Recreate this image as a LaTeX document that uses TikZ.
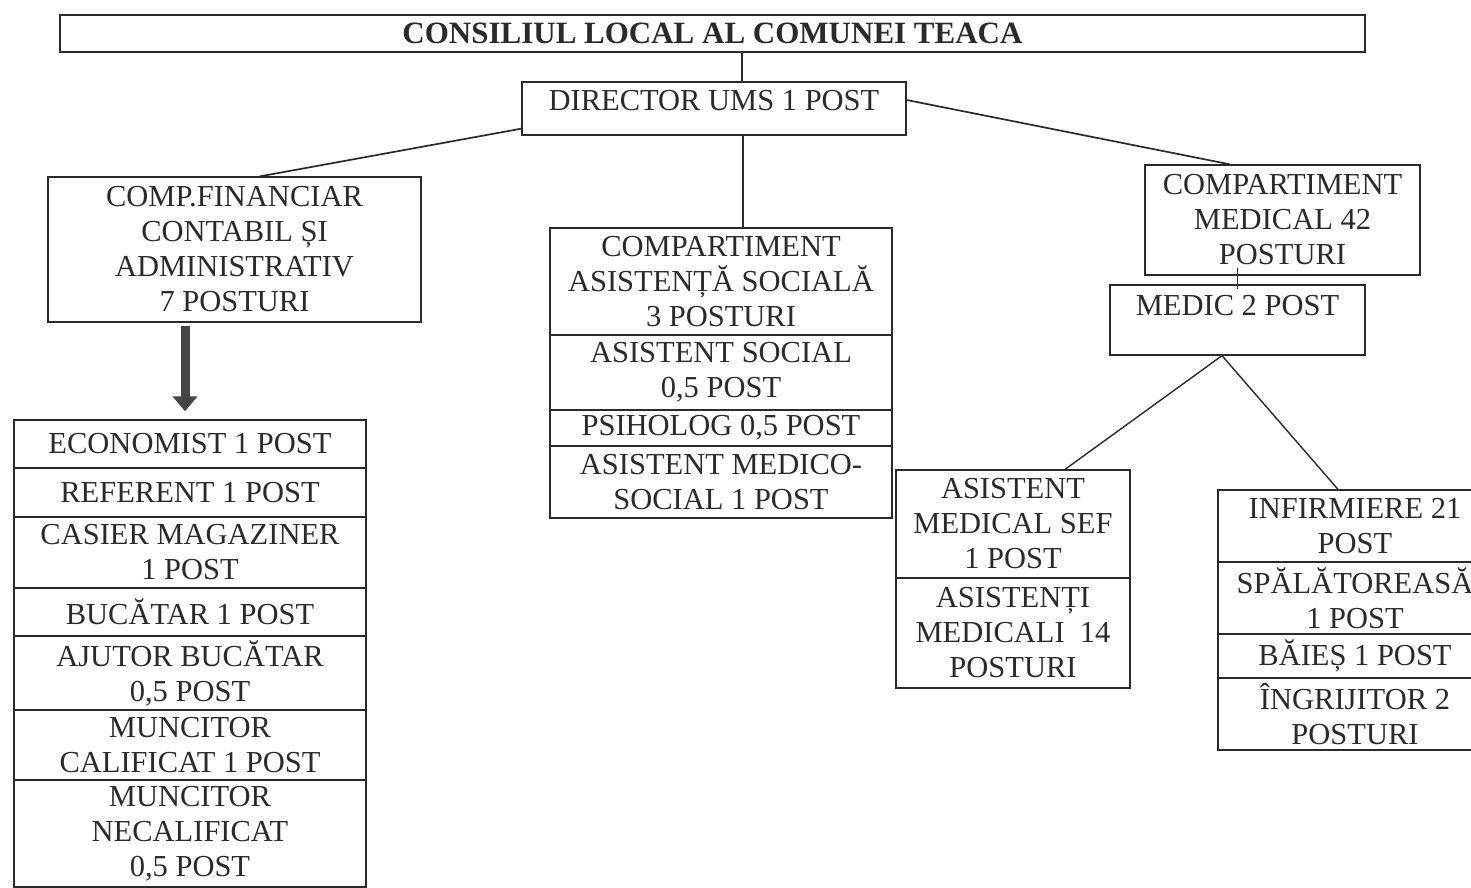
\documentclass[tikz,border=0pt]{standalone}
\usepackage{fontspec}
\setmainfont{Liberation Serif}
\usetikzlibrary{arrows.meta}
\definecolor{ink}{HTML}{2A2A2A}
\definecolor{arrowgray}{HTML}{454545}
\begin{document}
\begin{tikzpicture}[x=1pt,y=-1pt,
  box/.style={draw=ink, line width=1.3pt, inner sep=0pt, align=center, text=ink,
              font=\fontsize{30.5}{35}\selectfont},
  lrow/.style={box, minimum width=352pt},
  mrow/.style={box, minimum width=342pt},
  arow/.style={box, minimum width=234pt},
  rrow/.style={box, minimum width=274pt},
  conn/.style={draw=ink, line width=1.4pt},
]
\useasboundingbox (0,0) rectangle (1471,887);
\clip (0,0) rectangle (1471,887);

% top
\node[box, minimum width=1305pt, minimum height=37pt,
      font=\bfseries\fontsize{31}{35}\selectfont] (title) at (712.5,33.5)
      {CONSILIUL LOCAL AL COMUNEI TEACA};
\node[box, minimum width=384pt, minimum height=53pt, text height=22pt, text depth=17.5pt]
      (dir) at (714,108.5) {DIRECTOR UMS 1 POST};

% left branch
\node[box, minimum width=373pt, minimum height=145pt] (fin) at (234.5,249.5)
      {COMP.FINANCIAR\\CONTABIL ȘI\\ADMINISTRATIV\\7 POSTURI};
\node[lrow, minimum height=48pt]  (e1) at (190,444)   {ECONOMIST 1 POST};
\node[lrow, minimum height=49pt]  (e2) at (190,492.5) {REFERENT 1 POST};
\node[lrow, minimum height=71pt]  (e3) at (190,552.5) {CASIER MAGAZINER\\1 POST};
\node[lrow, minimum height=48pt]  (e4) at (190,612)   {BUCĂTAR 1 POST};
\node[lrow, minimum height=74pt]  (e5) at (190,673)   {AJUTOR BUCĂTAR\\0,5 POST};
\node[lrow, minimum height=70pt]  (e6) at (190,745)   {MUNCITOR\\CALIFICAT 1 POST};
\node[lrow, minimum height=107pt] (e7) at (190,833.5) {MUNCITOR\\NECALIFICAT\\0,5 POST};

% middle branch
\node[mrow, minimum height=107pt] (s1) at (721,281.5) {COMPARTIMENT\\ASISTENȚĂ SOCIALĂ\\3 POSTURI};
\node[mrow, minimum height=75pt]  (s2) at (721,372.5) {ASISTENT SOCIAL\\0,5 POST};
\node[mrow, minimum height=36pt]  (s3) at (721,428)   {PSIHOLOG 0,5 POST};
\node[mrow, minimum height=72pt]  (s4) at (721,482)   {ASISTENT MEDICO-\\SOCIAL 1 POST};

% right branch
\node[box, minimum width=275pt, minimum height=110pt] (med) at (1282.5,220)
      {COMPARTIMENT\\MEDICAL 42\\POSTURI};
\node[box, minimum width=255pt, minimum height=70pt, text height=22pt, text depth=31.5pt]
      (medic) at (1237.5,320) {MEDIC 2 POST};
\node[arow, minimum height=108pt] (a1) at (1013,524) {ASISTENT\\MEDICAL SEF\\1 POST};
\node[arow, minimum height=110pt] (a2) at (1013,633) {ASISTENȚI\\MEDICALI\ \ 14\\POSTURI};
\node[rrow, minimum height=72pt]  (i1) at (1355,526) {INFIRMIERE 21\\POST};
\node[rrow, minimum height=72pt]  (i2) at (1355,598) {SPĂLĂTOREASĂ\\1 POST};
\node[rrow, minimum height=44pt]  (i3) at (1355,656) {BĂIEȘ 1 POST};
\node[rrow, minimum height=72pt]  (i4) at (1355,714) {ÎNGRIJITOR 2\\POSTURI};

% connectors
\draw[conn, line width=1.1pt] ([xshift=28pt]dir.north) -- ([xshift=28pt]dir.north |- title.south);
\draw[conn] ([xshift=29pt]dir.south) -- ([xshift=29pt]dir.south |- s1.north);
\draw[conn, line width=1.7pt] ([yshift=7pt]dir.south west) -- ([xshift=25.5pt]fin.north);
\draw[conn, line width=1.7pt] ([yshift=8.5pt]dir.east) -- ([xshift=-52.5pt]med.north);
\draw[conn, line width=1.1pt] ([yshift=-5pt]medic.north) -- ([yshift=8pt]medic.north |- med.south);
\draw[conn] ([xshift=-15.5pt]medic.south) -- ([xshift=52pt]a1.north);
\draw[conn] ([xshift=-15.5pt]medic.south) -- ([xshift=-17pt]i1.north);
\draw[draw=arrowgray, line width=9pt, -{Triangle[width=24pt,length=15pt]}]
  ([xshift=-49.5pt,yshift=-3pt]fin.south) -- ([xshift=-5pt,yshift=8pt]e1.north);
\end{tikzpicture}
\end{document}
